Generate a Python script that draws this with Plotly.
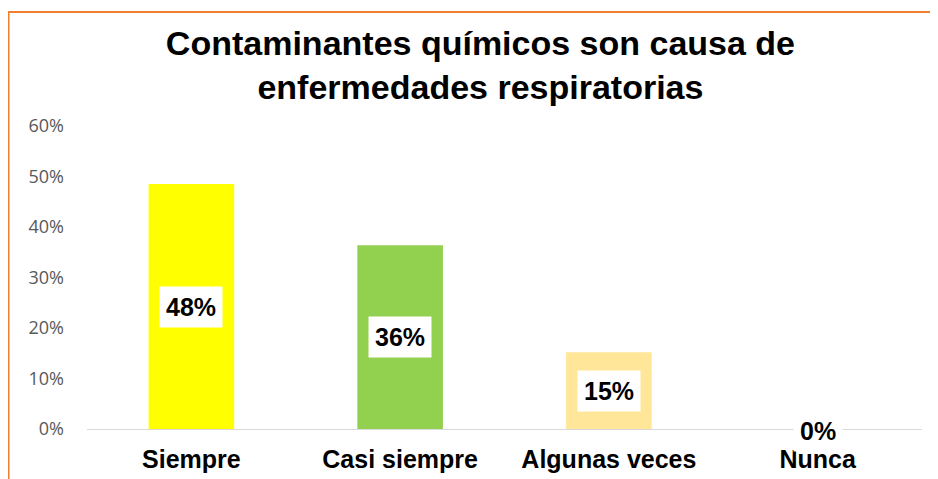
import plotly.graph_objects as go

# Datos del gráfico
categorias = ["Siempre", "Casi siempre", "Algunas veces", "Nunca"]
valores = [0.485, 0.364, 0.152, 0.0]
etiquetas = ["48%", "36%", "15%", "0%"]
colores = ["#FFFF00", "#92D050", "#FFE699", "#A5A5A5"]
ticks_y = [0, 0.1, 0.2, 0.3, 0.4, 0.5, 0.6]

fig = go.Figure()
fig.add_trace(go.Bar(x=categorias, y=valores, marker=dict(color=colores, line=dict(width=0)),
                     width=0.41, showlegend=False, hoverinfo="x+y"))

# Etiquetas de datos en cajas blancas (centro de la barra)
for c, v, t in zip(categorias, valores, etiquetas):
    fig.add_annotation(x=c, y=v / 2, text="<b>" + t + "</b>", showarrow=False,
                       font=dict(family="Liberation Sans, Arial", size=25, color="#000000"),
                       bgcolor="#FFFFFF", borderpad=6, yshift=-2 if v == 0 else 0)

# la página añade 8 px de margen, así que la figura es un poco más pequeña
fig.update_layout(
    width=930, height=471,
    margin=dict(l=79, r=16, t=118, b=50),
    paper_bgcolor="#FFFFFF", plot_bgcolor="#FFFFFF",
    title=dict(text="<b>Contaminantes químicos son causa de<br>enfermedades respiratorias</b>",
               x=0.508, xanchor="center", y=0.90, yanchor="top",
               font=dict(family="Liberation Sans, Arial", size=34, color="#000000")),
    bargap=0.59,
)
fig.update_xaxes(showline=True, linecolor="#D9D9D9", linewidth=1, showgrid=False, ticks="",
                 ticklabelstandoff=8, automargin=False,
                 tickfont=dict(family="Liberation Sans, Arial", size=25, color="#000000"),
                 tickprefix="<b>", ticksuffix="</b>")
fig.update_yaxes(range=[0, 0.6], tickvals=ticks_y, tickformat=".0%", showgrid=False,
                 zeroline=False, showline=False, ticklabelstandoff=22, automargin=False,
                 tickfont=dict(family="Open Sans, Noto Sans", size=18, color="#595959"))

# Borde naranja del área del gráfico
fig.add_shape(type="rect", xref="paper", yref="paper", x0=-0.094, x1=1.1, y0=-0.4, y1=1.376,
              line=dict(color="#F08030", width=2), fillcolor="rgba(0,0,0,0)", layer="above")

fig.write_html("out.html")
